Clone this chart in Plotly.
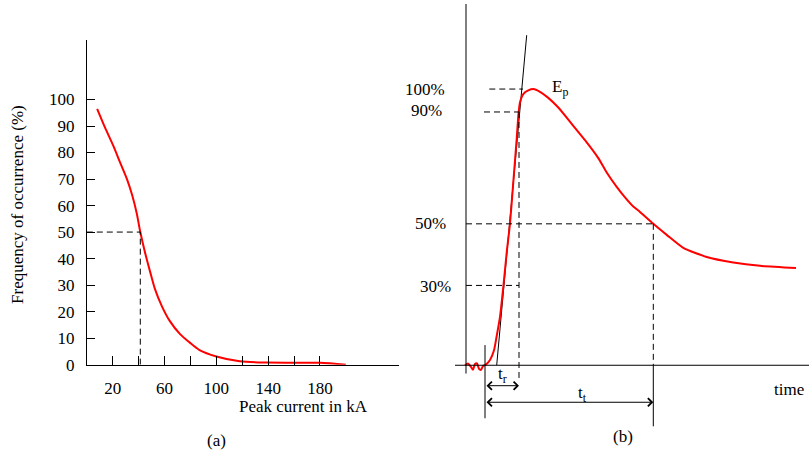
import plotly.graph_objects as go

W, H = 809, 463
FONT = "Liberation Serif"
FS = 17

# ---------------- Panel (a): frequency of occurrence vs peak current ----------------
peak_kA = [8, 14, 20.5, 25.5, 31, 35, 38.5, 41.3, 45, 49, 52.5, 58, 64, 72, 79, 87,
           100, 118, 139, 160, 180, 200]
freq_pct = [96.5, 89.5, 82.5, 76.5, 70, 64, 57.2, 50, 42.2, 34.8, 28.7, 22, 16.5, 11.5,
            8.5, 5.5, 3.1, 1.3, 0.8, 0.75, 0.7, 0.0]
median_kA = 41.3
median_pct = 50
x_ticks_a = [20, 40, 60, 80, 100, 120, 140, 160, 180]
x_ticklabels_a = ["20", "", "60", "", "100", "", "140", "", "180"]
y_ticks_a = [0, 10, 20, 30, 40, 50, 60, 70, 80, 90, 100]
y_ticklabels_a = [str(v) for v in y_ticks_a]

# ---------------- Panel (b): impulse waveform (schematic) ----------------
wave_t = [-20, -17, -14, -12, -10, -8, -6, -4, -2, 0, 5, 9, 11.7, 15, 18.3, 21.5, 25,
          28, 31.7, 33.5, 35, 38.3, 43.3, 48.3, 55, 63.3, 73.3, 86.7, 100, 113.3, 121.7,
          131.7, 140, 148, 155, 168.3, 181.7, 198.3, 221.7, 248.3, 275, 311]
wave_v = [0, 0.64, -0.6, -1.66, 0.46, 0.64, -1.31, -1.66, -0.25, 0, 1.9, 5.4, 10.6,
          17.5, 28.3, 40.1, 51.4, 64.9, 82.0, 91.0, 95.2, 98.2, 99.5, 100, 99.0, 96.8,
          93.3, 87.4, 81.5, 75.0, 69.8, 64.6, 60.8, 57.6, 55.5, 51.2, 47.2, 42.5, 39.2,
          37.2, 36.0, 35.2]
tangent_t = [11.7, 41.7]
tangent_v = [0, 119.5]
level_labels = ["30%", "50%", "90%", "100%"]
level_v = [28.9, 51.2, 91.7, 100]
t_front = 34      # time where front reaches 90 %
t_tail = 168.3    # time where tail falls to 50 %
t_axis = -19      # position of vertical (amplitude) axis

fig = go.Figure()

fig.add_trace(go.Scatter(x=peak_kA, y=freq_pct, mode="lines",
                         line=dict(color="#ff0000", width=2, shape="spline", smoothing=0.8),
                         xaxis="x", yaxis="y", hoverinfo="skip"))

fig.add_trace(go.Scatter(x=tangent_t, y=tangent_v, mode="lines",
                         line=dict(color="black", width=1),
                         xaxis="x2", yaxis="y2", hoverinfo="skip"))
fig.add_trace(go.Scatter(x=wave_t, y=wave_v, mode="lines",
                         line=dict(color="#ff0000", width=2, shape="spline", smoothing=0.6),
                         xaxis="x2", yaxis="y2", hoverinfo="skip"))

DASH = "6px,4px"
shapes = []
shapes.append(dict(type="line", xref="x", yref="y", x0=0, x1=median_kA, y0=median_pct, y1=median_pct,
                   line=dict(color="black", width=1, dash=DASH)))
shapes.append(dict(type="line", xref="x", yref="y", x0=median_kA, x1=median_kA, y0=0, y1=median_pct,
                   line=dict(color="black", width=1, dash=DASH)))


def l2(x0, x1, y0, y1, dash=None):
    ln = dict(color="black", width=1)
    if dash:
        ln["dash"] = dash
    return dict(type="line", xref="x2", yref="y2", x0=x0, x1=x1, y0=y0, y1=y1, line=ln)


shapes.append(l2(t_axis, t_axis, -3, 130.8))
shapes.append(l2(-30, 324, 0, 0))
shapes.append(l2(0, 0, 7.3, -19.2))
shapes.append(l2(4.3, 38, level_v[3], level_v[3], DASH))
shapes.append(l2(-1, t_front, level_v[2], level_v[2], DASH))
shapes.append(l2(t_axis, t_tail, level_v[1], level_v[1], DASH))
shapes.append(l2(t_axis, t_front, level_v[0], level_v[0], DASH))
shapes.append(l2(t_front, t_front, level_v[2], -5.9, DASH))
shapes.append(l2(t_tail, t_tail, level_v[1], 0, DASH))
shapes.append(l2(t_tail, t_tail, 0, -22.1))


def pa(x, y, text, **kw):
    d = dict(x=x / W, y=1 - y / H, xref="paper", yref="paper", text=text, showarrow=False,
             font=dict(family=FONT, size=FS, color="black"), xanchor="center", yanchor="middle")
    d.update(kw)
    return d


annotations = [
    pa(17.5, 209, "Frequency of occurrence (%)", textangle=-90),
    pa(303.5, 415, "Peak current in kA"),
    pa(216, 450, "(a)"),
    pa(622.7, 446, "(b)"),
    pa(789, 398, "time"),
    pa(560, 90, "E<sub>p</sub>"),
    pa(502, 383, "t<sub>r</sub>"),
    pa(582, 403, "t<sub>t</sub>"),
]
label_right_px = [452.7, 448.3, 444.3, 446.7]
label_y_px = [293.3, 228.7, 113.3, 91]
for lab, xr, yp in zip(level_labels, label_right_px, label_y_px):
    annotations.append(pa(xr, yp, lab, xanchor="right"))

for y_arr, t_end in [(-7.4, t_front), (-13.4, t_tail)]:
    annotations.append(dict(x=t_end, y=y_arr, ax=0, ay=y_arr, xref="x2", yref="y2",
                            axref="x2", ayref="y2", text="", showarrow=True,
                            arrowhead=4, startarrowhead=4, arrowside="end+start",
                            arrowsize=1.6, arrowwidth=1, arrowcolor="black"))

axis_font = dict(family=FONT, size=FS, color="black")
fig.update_layout(
    width=W, height=H, margin=dict(l=0, r=0, t=0, b=0),
    paper_bgcolor="white", plot_bgcolor="rgba(0,0,0,0)",
    showlegend=False,
    font=dict(family=FONT, size=FS, color="black"),
    xaxis=dict(domain=[86.8 / W, 399 / W], range=[0, 241], showline=True, linecolor="black",
               linewidth=1, ticks="inside", ticklen=9, tickcolor="black", tickwidth=1,
               tickvals=x_ticks_a, ticktext=x_ticklabels_a, tickfont=axis_font,
               showgrid=False, zeroline=False, ticklabelstandoff=8, anchor="y"),
    yaxis=dict(domain=[90.3 / H, 422 / H], range=[0, 122.4], showline=True, linecolor="black",
               linewidth=1, ticks="inside", ticklen=8, tickcolor="black", tickwidth=1,
               tickvals=y_ticks_a, ticktext=y_ticklabels_a, tickfont=axis_font,
               showgrid=False, zeroline=False, ticklabelstandoff=8, anchor="x"),
    xaxis2=dict(domain=[455 / W, 1], range=[-30, 324], visible=False, anchor="y2"),
    yaxis2=dict(domain=[0, 1], range=[-31.77, 132.24], visible=False, anchor="x2"),
    shapes=shapes, annotations=annotations,
)

fig.write_html("out.html",
               config={"displayModeBar": False},
               post_script="document.documentElement.style.margin='0';"
                           "document.body.style.margin='0';document.body.style.padding='0';"
                           "document.body.style.overflow='hidden';")
